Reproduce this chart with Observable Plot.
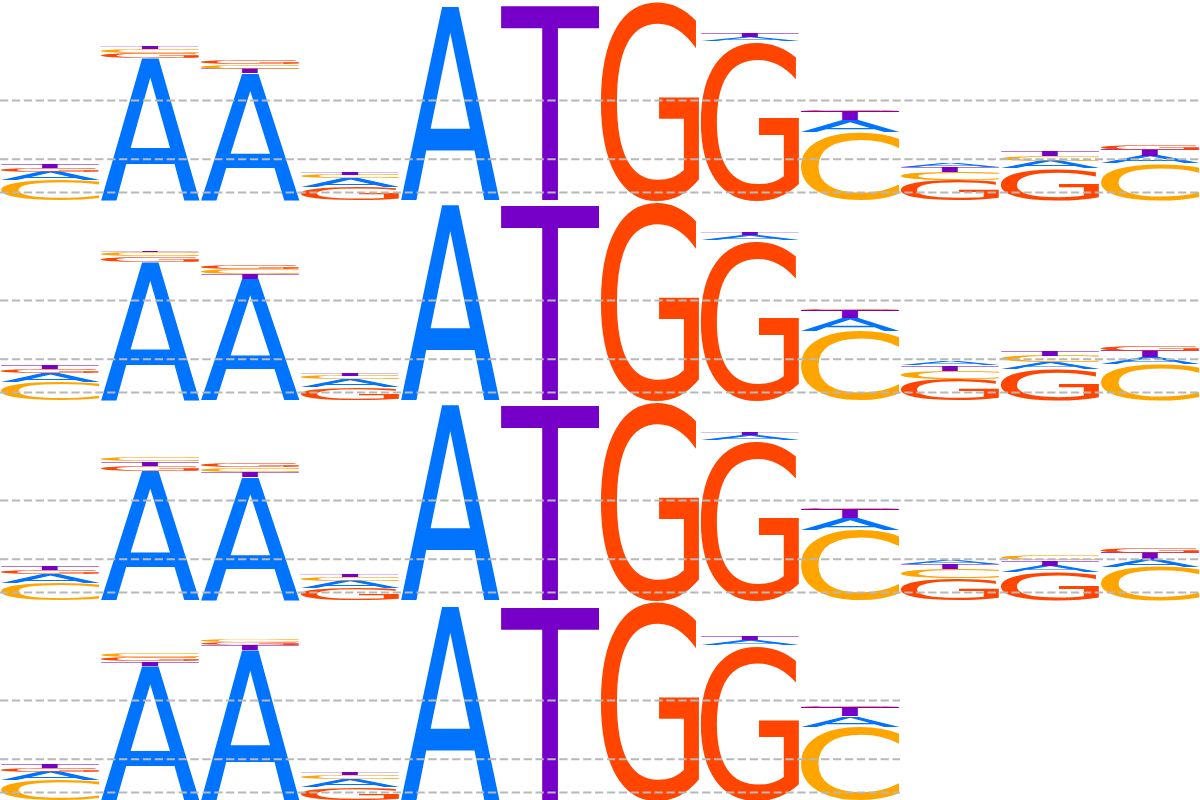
<!DOCTYPE html>
<html>
<head>
<meta charset="utf-8">
<script src="https://cdn.jsdelivr.net/npm/d3@7"></script>
<script src="https://cdn.jsdelivr.net/npm/@observablehq/plot@0.6"></script>
<style>
  html, body { margin: 0; padding: 0; background: #ffffff; }
  #chart svg { display: block; }
</style>
</head>
<body>
<div id="chart"></div>
<script>
// ---------------- data ----------------
const positions = [1, 2, 3, 4, 5, 6, 7, 8, 9, 10, 11, 12];
const panels = [1, 2, 3, 4];
const panelLengths = [12, 12, 12, 9];
const letters = ["A", "C", "G", "T"];
const letterColors = ["#0073ff", "#ffa500", "#ff4500", "#7600c8"];
const gridBits = [1.0, 0.413, 0.08];

// information (bits) per position, one array per panel and letter
const p1A = [0.083, 1.417, 1.267, 0.083, 1.933, 0, 0, 0.043, 0.117, 0.040, 0.073, 0.073];
const p1C = [0.200, 0.043, 0.043, 0.033, 0, 0, 0, 0, 0.683, 0.080, 0.053, 0.367];
const p1G = [0.038, 0.050, 0.040, 0.133, 0, 0, 1.995, 1.590, 0.012, 0.200, 0.317, 0.058];
const p1T = [0.036, 0.023, 0.047, 0.023, 0, 1.967, 0, 0.033, 0.090, 0.050, 0.047, 0.062];

const p2A = [0.083, 1.383, 1.207, 0.080, 1.950, 0, 0, 0.050, 0.123, 0.040, 0.070, 0.067];
const p2C = [0.183, 0.043, 0.047, 0.037, 0, 0, 0, 0, 0.693, 0.083, 0.063, 0.360];
const p2G = [0.043, 0.057, 0.043, 0.127, 0, 0, 1.990, 1.600, 0.013, 0.210, 0.307, 0.057];
const p2T = [0.033, 0.017, 0.053, 0.023, 0, 1.970, 0, 0.027, 0.083, 0.057, 0.050, 0.065];

const p3A = [0.083, 1.293, 1.227, 0.073, 1.950, 0, 0, 0.050, 0.117, 0.040, 0.060, 0.077];
const p3C = [0.173, 0.037, 0.045, 0.037, 0, 0, 0, 0, 0.700, 0.090, 0.050, 0.333];
const p3G = [0.040, 0.050, 0.042, 0.117, 0, 0, 1.990, 1.600, 0.013, 0.217, 0.283, 0.053];
const p3T = [0.037, 0.043, 0.053, 0.023, 0, 1.970, 0, 0.030, 0.090, 0.053, 0.055, 0.060];

const p4A = [0.083, 1.343, 1.500, 0.080, 1.933, 0, 0, 0.050, 0.107];
const p4C = [0.200, 0.035, 0.020, 0.040, 0, 0, 0, 0, 0.733];
const p4G = [0.040, 0.040, 0.025, 0.127, 0, 0, 1.995, 1.550, 0.013];
const p4T = [0.037, 0.042, 0.050, 0.027, 0, 1.950, 0, 0.033, 0.087];

// ---------------- tables ----------------
const panelSeries = [
  [p1A, p1C, p1G, p1T],
  [p2A, p2C, p2G, p2T],
  [p3A, p3C, p3G, p3T],
  [p4A, p4C, p4G, p4T]
];

// stack each column: largest letter at the bottom
const rows = [];
panels.forEach((panel, pi) => {
  positions.slice(0, panelLengths[pi]).forEach((pos, k) => {
    const col = letters.map((letter, li) => ({panel, pos, letter, bits: panelSeries[pi][li][k]}))
      .filter(d => d.bits > 0)
      .sort((a, b) => b.bits - a.bits);
    let base = 0;
    for (const d of col) {
      d.lo = base;
      d.hi = base + d.bits;
      base = d.hi;
      rows.push(d);
    }
  });
});

const gridRows = [];
panels.forEach((panel, pi) => gridBits.forEach(bits => gridRows.push({panel, bits, last: positions[panelLengths[pi] - 1]})));

// ---------------- glyph metrics ----------------
const FONT = "DejaVu Sans";
const ctx = document.createElement("canvas").getContext("2d");
ctx.font = `100px "${FONT}"`;
ctx.textAlign = "left";
ctx.textBaseline = "alphabetic";
const metrics = {};
for (const L of letters) {
  const m = ctx.measureText(L);
  metrics[L] = {
    left: m.actualBoundingBoxLeft,
    descent: m.actualBoundingBoxDescent,
    w: m.actualBoundingBoxLeft + m.actualBoundingBoxRight,
    h: m.actualBoundingBoxAscent + m.actualBoundingBoxDescent
  };
}

// draw each stacked rect as a letter stretched to fill it
function renderGlyphs(index, scales, values) {
  const g = d3.create("svg:g");
  for (const i of index) {
    const xa = Math.min(values.x1[i], values.x2[i]);
    const xb = Math.max(values.x1[i], values.x2[i]);
    const yTop = Math.min(values.y1[i], values.y2[i]);
    const yBot = Math.max(values.y1[i], values.y2[i]);
    const h = yBot - yTop;
    if (!(h > 0.05)) continue;
    const L = rows[i].letter;
    const m = metrics[L];
    const sx = (xb - xa) / m.w;
    const sy = h / m.h;
    g.append("text")
      .attr("font-family", FONT)
      .attr("font-size", 100)
      .attr("text-anchor", "start")
      .attr("dominant-baseline", "alphabetic")
      .attr("fill", values.fill[i])
      .attr("transform", `translate(${xa},${yBot}) scale(${sx},${sy}) translate(${m.left},${-m.descent})`)
      .text(L);
  }
  return g.node();
}

const chart = Plot.plot({
  width: 1200,
  height: 800,
  margin: 0,
  marginTop: 0,
  marginRight: 0,
  marginBottom: 0,
  marginLeft: 0,
  style: {background: "#ffffff"},
  x: {domain: [positions[0] - 0.5, positions[positions.length - 1] + 0.5], axis: null},
  y: {domain: [0, 2], axis: null},
  fy: {domain: panels, padding: 0, axis: null},
  color: {domain: letters, range: letterColors},
  marks: [
    Plot.rect(rows, {
      x1: d => d.pos - 0.5,
      x2: d => d.pos + 0.5,
      y1: "lo",
      y2: "hi",
      fy: "panel",
      fill: "letter",
      render: renderGlyphs
    }),
    Plot.ruleY(gridRows, {
      y: "bits",
      fy: "panel",
      x1: () => positions[0] - 0.5,
      x2: d => d.last + 0.5,
      stroke: "#b8b8b8",
      strokeWidth: 2,
      strokeDasharray: "8.3,3.6"
    })
  ]
});
document.getElementById("chart").appendChild(chart);
</script>
</body>
</html>
